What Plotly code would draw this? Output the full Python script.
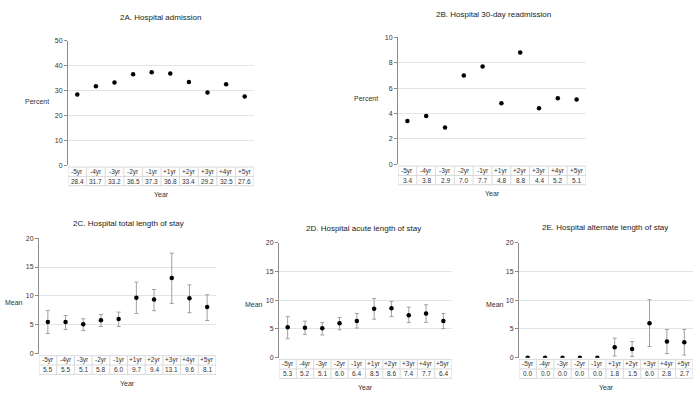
import plotly.graph_objects as go

# ---------------- data ----------------
years = ["-5yr", "-4yr", "-3yr", "-2yr", "-1yr", "+1yr", "+2yr", "+3yr", "+4yr", "+5yr"]

admission = [28.4, 31.7, 33.2, 36.5, 37.3, 36.8, 33.4, 29.2, 32.5, 27.6]
readmission = [3.4, 3.8, 2.9, 7.0, 7.7, 4.8, 8.8, 4.4, 5.2, 5.1]

total_los = [5.5, 5.5, 5.1, 5.8, 6.0, 9.7, 9.4, 13.1, 9.6, 8.1]
total_los_lo = [3.5, 4.2, 4.0, 4.7, 4.7, 6.95, 7.45, 8.7, 7.1, 5.75]
total_los_hi = [7.5, 6.6, 6.05, 6.8, 7.2, 12.4, 11.1, 17.4, 11.9, 10.2]

acute_los = [5.3, 5.2, 5.1, 6.0, 6.4, 8.5, 8.6, 7.4, 7.7, 6.4]
acute_los_lo = [3.3, 4.05, 3.95, 4.85, 5.15, 6.7, 7.15, 6.1, 6.15, 5.05]
acute_los_hi = [7.15, 6.35, 6.1, 7.0, 7.7, 10.3, 9.8, 8.8, 9.2, 7.7]

alt_los = [0.0, 0.0, 0.0, 0.0, 0.0, 1.8, 1.5, 6.0, 2.8, 2.7]
alt_los_lo = [0.0, 0.0, 0.0, 0.0, 0.0, 0.3, 0.2, 1.95, 0.7, 0.45]
alt_los_hi = [0.0, 0.0, 0.0, 0.0, 0.0, 3.4, 2.8, 10.1, 4.9, 4.9]

titles = ["2A. Hospital admission", "2B. Hospital 30-day readmission",
          "2C. Hospital total length of stay", "2D. Hospital acute length of stay",
          "2E. Hospital alternate length of stay"]
y_titles = ["Percent", "Percent", "Mean", "Mean", "Mean"]
x_title = "Year"

series = [
    (admission, None, None),
    (readmission, None, None),
    (total_los, total_los_lo, total_los_hi),
    (acute_los, acute_los_lo, acute_los_hi),
    (alt_los, alt_los_lo, alt_los_hi),
]

# ---------------- layout geometry (pixels) ----------------
W, H = 700, 398
FONT = "Liberation Sans, Arial, sans-serif"
TXT = "#333333"
BORDER = "#d9d9d9"

geom = [
    dict(x0=68, x1=254, ytop=37.3, ybot=164, ymax=50, dtick=10, t=(160, 14), yt=(37, 99)),
    dict(x0=398, x1=586, ytop=34, ybot=163, ymax=10, dtick=2, t=(493, 11), yt=(365.5, 96)),
    dict(x0=39, x1=216, ytop=238.3, ybot=356, ymax=20, dtick=5, t=(128, 223), yt=(14.5, 304)),
    dict(x0=279, x1=452, ytop=243, ybot=360, ymax=20, dtick=5, t=(363, 229), yt=(254.5, 306)),
    dict(x0=519, x1=693, ytop=243, ybot=360, ymax=20, dtick=5, t=(605, 228), yt=(495, 306)),
]


def px(x):
    return x / W


def py(y):
    return 1 - y / H


fig = go.Figure()
shapes = []
annotations = []
layout = {}


def note(x, y, text, size, color, xref="paper", yref="paper"):
    return dict(x=x, y=y, xref=xref, yref=yref, text=text, showarrow=False,
                xanchor="center", yanchor="middle",
                font=dict(family=FONT, size=size, color=color))


for i, (g, (vals, lo, hi)) in enumerate(zip(geom, series)):
    n = i + 1
    sfx = "" if n == 1 else str(n)
    xa, ya = "x" + sfx, "y" + sfx
    ph = g["ybot"] - g["ytop"]
    cw = (g["x1"] - g["x0"]) / len(years)

    err = None
    if lo is not None:
        err = dict(type="data", symmetric=False,
                   array=[h - v for h, v in zip(hi, vals)],
                   arrayminus=[v - l for v, l in zip(vals, lo)],
                   color="#a0a0a0", thickness=1, width=2)
    fig.add_trace(go.Scatter(x=years, y=vals, mode="markers", xaxis=xa, yaxis=ya,
                             marker=dict(color="black", size=4.5), error_y=err,
                             showlegend=False, hoverinfo="x+y"))

    layout["xaxis" + sfx] = dict(domain=[px(g["x0"]), px(g["x1"])], anchor=ya,
                                 type="category", range=[-0.5, len(years) - 0.5],
                                 showticklabels=False, showgrid=False, showline=False,
                                 zeroline=False, ticks="")
    layout["yaxis" + sfx] = dict(domain=[py(g["ybot"]), py(g["ytop"])], anchor=xa,
                                 range=[0, g["ymax"]], dtick=g["dtick"], tick0=0,
                                 showgrid=True, gridcolor="#e4e4e4", gridwidth=1,
                                 zeroline=False, showline=True, linecolor="#8c8c8c",
                                 linewidth=1, ticks="outside", ticklen=3,
                                 tickcolor="#8c8c8c",
                                 tickfont=dict(family=FONT, size=7, color=TXT))

    yd = ya + " domain"
    d = lambda p: -p / ph  # pixel offset below the axis -> domain units
    top, mid, bot = d(2), d(11.5), d(21)
    ext = 5 / cw
    line = dict(color=BORDER, width=1)
    left, right = -0.5, len(years) - 0.5
    shapes.append(dict(type="line", xref=xa, yref=yd, x0=left, x1=right, y0=top, y1=top, line=line))
    shapes.append(dict(type="line", xref=xa, yref=yd, x0=left - ext, x1=right, y0=mid, y1=mid, line=line))
    shapes.append(dict(type="line", xref=xa, yref=yd, x0=left - ext, x1=right, y0=bot, y1=bot, line=line))
    shapes.append(dict(type="line", xref=xa, yref=yd, x0=left - ext, x1=left - ext, y0=mid, y1=bot, line=line))
    for k in range(len(years) + 1):
        xb = left + k
        shapes.append(dict(type="line", xref=xa, yref=yd, x0=xb, x1=xb, y0=top, y1=bot, line=line))

    for c, v in zip(years, vals):
        annotations.append(note(c, d(6.7), c, 6.5, TXT, xref=xa, yref=yd))
        annotations.append(note(c, d(16.3), f"{v:.1f}", 6.5, TXT, xref=xa, yref=yd))

    annotations.append(note(px(g["t"][0]), py(g["t"][1]), titles[i], 8, "#222222"))
    annotations.append(note(px(g["yt"][0]), py(g["yt"][1]), y_titles[i], 7, TXT))
    annotations.append(note(px((g["x0"] + g["x1"]) / 2), py(g["ybot"] + 30), x_title, 7, TXT))

fig.update_layout(width=W, height=H, margin=dict(l=0, r=0, t=0, b=0),
                  paper_bgcolor="white", plot_bgcolor="white",
                  shapes=shapes, annotations=annotations, **layout)

fig.write_html("out.html", config={"displayModeBar": False},
               post_script="document.body.style.margin='0px';document.body.style.padding='0px';")
